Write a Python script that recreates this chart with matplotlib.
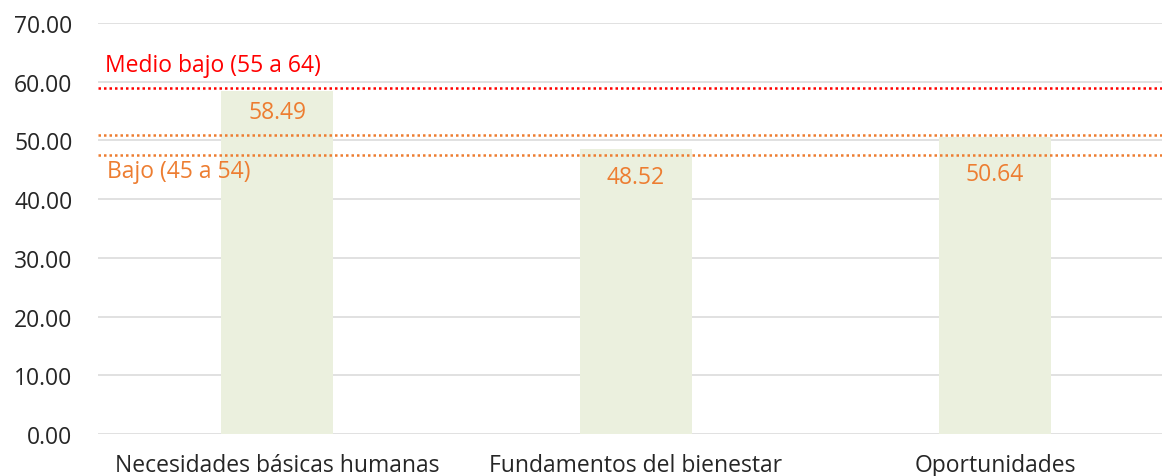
import matplotlib.pyplot as plt
import numpy as np

plt.rcParams['font.family'] = ['Open Sans', 'DejaVu Sans']

categorias = ['Necesidades básicas humanas', 'Fundamentos del bienestar', 'Oportunidades']
valores = [58.49, 48.52, 50.64]
pos_etiquetas = [54.85, 43.8, 44.3]
etiquetas_y = ['0.00', '10.00', '20.00', '30.00', '40.00', '50.00', '60.00', '70.00']
linea_medio_bajo = 58.9
lineas_bajo = [50.9, 47.5]

fig = plt.figure(figsize=(11.62, 4.77), dpi=100)
ax = fig.add_axes([97.5/1162, 1 - 435/477, 1077/1162, 411/477])

x = np.arange(len(categorias))
ax.bar(x, valores, width=0.313, color='#EBF0DE', zorder=2)
for xi, v, py in zip(x, valores, pos_etiquetas):
    ax.text(xi, py, f'{v:.2f}', ha='center', va='center', color='#ED7D31', fontsize=16.5, zorder=4)

ax.set_ylim(0, 70)
ax.set_xlim(-0.5, len(categorias) - 0.5)
ticks = [float(t) for t in etiquetas_y]
ax.set_yticks(ticks)
ax.set_yticklabels(etiquetas_y)
ax.yaxis.grid(True, color='#D9D9D9', linewidth=1.1, zorder=0)
ax.set_xticks(x)
ax.set_xticklabels(categorias)
ax.tick_params(axis='both', length=0, labelsize=16.5, colors='#262626')
ax.tick_params(axis='y', pad=18)
ax.tick_params(axis='x', pad=14)
for s in ax.spines.values():
    s.set_visible(False)

ax.axhline(linea_medio_bajo, color='#FF0000', linestyle=(0, (1, 1.2)), linewidth=1.8, zorder=3)
for yl in lineas_bajo:
    ax.axhline(yl, color='#ED7D31', linestyle=(0, (1, 1.2)), linewidth=1.8, zorder=3)

ax.text(-0.479, 62.85, 'Medio bajo (55 a 64)', color='#FF0000', fontsize=16.5, va='center', ha='left')
ax.text(-0.474, 44.8, 'Bajo (45 a 54)', color='#ED7D31', fontsize=16.5, va='center', ha='left')

fig.savefig('out.png', dpi=100)
